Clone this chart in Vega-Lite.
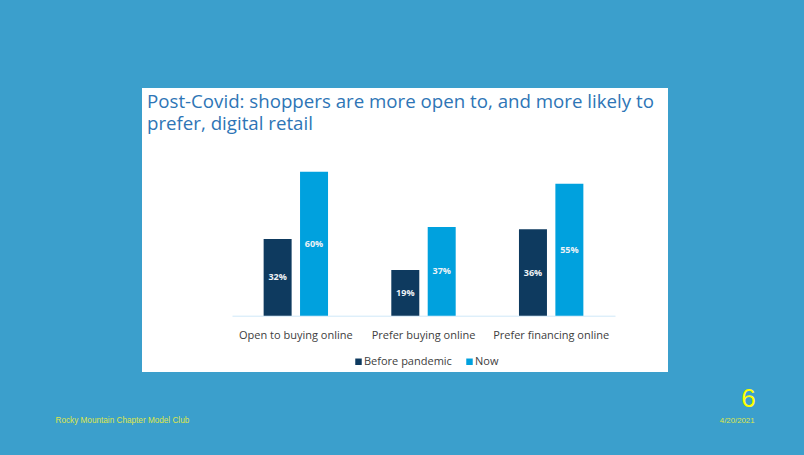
{
  "$schema": "https://vega.github.io/schema/vega-lite/v6.json",
  "width": 526,
  "height": 284,
  "autosize": {"type": "none"},
  "padding": {"left": 142, "top": 88, "right": 136, "bottom": 83},
  "background": "#3b9fcc",
  "title": {
    "text": ["Post-Covid: shoppers are more open to, and more likely to", "prefer, digital retail"],
    "anchor": "start",
    "frame": "group",
    "orient": "top",
    "baseline": "top",
    "offset": -46,
    "dx": 5,
    "font": "Open Sans",
    "fontSize": 18.7,
    "fontWeight": "normal",
    "color": "#2e75b6",
    "lineHeight": 22.6
  },
  "data": {
    "values": [
      {"measure": "Open to buying online", "period": "Before pandemic", "v": 0.32},
      {"measure": "Open to buying online", "period": "Now", "v": 0.60},
      {"measure": "Prefer buying online", "period": "Before pandemic", "v": 0.19},
      {"measure": "Prefer buying online", "period": "Now", "v": 0.37},
      {"measure": "Prefer financing online", "period": "Before pandemic", "v": 0.36},
      {"measure": "Prefer financing online", "period": "Now", "v": 0.55}
    ]
  },
  "layer": [
    {
      "mark": {"type": "bar"},
      "encoding": {
        "x": {
          "field": "measure", "type": "nominal",
          "sort": ["Open to buying online", "Prefer buying online", "Prefer financing online"],
          "scale": {"range": [90, 473], "paddingInner": 0, "paddingOuter": 0},
          "axis": {
            "orient": "bottom", "offset": -56.3, "title": null, "ticks": false,
            "domainColor": "#cfe8f8", "domainWidth": 1, "labelPadding": 14, "labelAngle": 0,
            "labelFont": "Open Sans", "labelFontSize": 11, "labelColor": "#404040", "labelLimit": 200
          }
        },
        "xOffset": {
          "field": "period", "type": "nominal", "sort": ["Before pandemic", "Now"],
          "scale": {"paddingInner": 0.231, "paddingOuter": 0.869}
        },
        "y": {
          "field": "v", "type": "quantitative",
          "scale": {"domain": [-0.23458, 0.94875], "nice": false, "zero": false},
          "axis": {
            "orient": "left", "labels": false, "ticks": false, "domain": false, "grid": false,
            "title": "Rocky Mountain Chapter Model Club", "titleAngle": 0, "titleX": -87, "titleY": 332,
            "titleAlign": "left", "titleBaseline": "middle", "titleFont": "Liberation Sans",
            "titleFontSize": 8.2, "titleFontWeight": "normal", "titleColor": "#dfe64a"
          }
        },
        "color": {
          "field": "period", "type": "nominal",
          "scale": {"domain": ["Before pandemic", "Now"], "range": ["#0e3a5f", "#00a1de"]},
          "legend": {
            "orient": "none", "legendX": 211, "legendY": 268, "direction": "horizontal", "title": null,
            "symbolType": "square", "symbolSize": 42, "symbolStrokeWidth": 0, "labelOffset": 0,
            "columnPadding": 12, "padding": 0,
            "labelFont": "Open Sans", "labelFontSize": 11, "labelColor": "#404040"
          }
        }
      }
    },
    {
      "mark": {"type": "text", "font": "Open Sans", "fontSize": 9, "fontWeight": "bold", "color": "#eef2f6", "baseline": "middle", "align": "center"},
      "encoding": {
        "x": {
          "field": "measure", "type": "nominal",
          "sort": ["Open to buying online", "Prefer buying online", "Prefer financing online"],
          "axis": {
            "orient": "top", "labels": false, "ticks": false, "domain": false,
            "title": "6", "titleX": 606, "titleY": 310, "titleAlign": "center", "titleBaseline": "middle",
            "titleFont": "Liberation Sans", "titleFontSize": 26, "titleFontWeight": "normal", "titleColor": "#ffff00"
          }
        },
        "xOffset": {"field": "period", "type": "nominal", "sort": ["Before pandemic", "Now"]},
        "y": {
          "field": "v", "type": "quantitative",
          "scale": {"domain": [-0.46916, 1.8975], "nice": false, "zero": false},
          "axis": {
            "orient": "right", "labels": false, "ticks": false, "domain": false, "grid": false,
            "title": "4/20/2021", "titleAngle": 0, "titleX": 86, "titleY": 332,
            "titleAlign": "right", "titleBaseline": "middle", "titleFont": "Liberation Sans",
            "titleFontSize": 7.8, "titleFontWeight": "normal", "titleColor": "#dfe64a"
          }
        },
        "text": {"field": "v", "type": "quantitative", "format": ".0%"}
      }
    }
  ],
  "resolve": {"scale": {"y": "independent"}, "axis": {"x": "independent", "y": "independent"}},
  "config": {
    "view": {"fill": "white", "stroke": null},
    "axis": {"grid": false}
  }
}
